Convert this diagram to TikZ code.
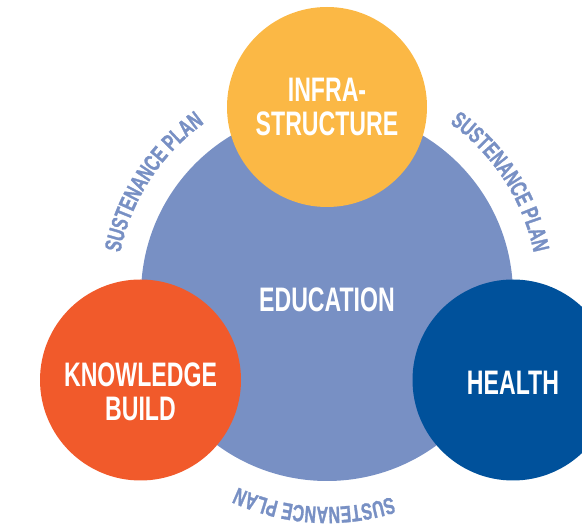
\documentclass[tikz,border=0pt]{standalone}
\usepackage{fontspec}
\setmainfont{Liberation Sans}
\newfontfamily\condfont[FakeStretch=0.68]{Liberation Sans}
\newfontfamily\arcfont[FakeStretch=0.68,FakeBold=1.2]{Liberation Sans}
\usetikzlibrary{positioning,decorations.text}
\definecolor{edublue}{HTML}{7890C4}
\definecolor{infraorange}{HTML}{FBB845}
\definecolor{knowred}{HTML}{F15A2B}
\definecolor{healthblue}{HTML}{00519B}
\tikzstyle{disc}=[circle, draw=none, inner sep=0pt]
\tikzstyle{edudisc}=[disc, fill=edublue, minimum size=372pt]
\tikzstyle{smalldisc}=[disc, minimum size=201pt]
\tikzstyle{lbl}=[text=white, align=center, inner sep=0pt,
                 font=\condfont\bfseries\fontsize{34}{34.5}\selectfont]
\tikzstyle{sustain}=[decorate, decoration={text along path, text align=center,
                 text color=edublue,
                 text={|\arcfont\bfseries\fontsize{23.5}{23.5}\selectfont|SUSTENANCE PLAN}}]

\begin{document}
\begin{tikzpicture}[x=1pt,y=-1pt]
\clip (0,0) rectangle (582,529);

\node (EDU) [edudisc] at (327,295) {};
\node (INFRA) [smalldisc, fill=infraorange, minimum size=200pt] at (327,107) {};
\node (KNOW) [smalldisc, fill=knowred] at (140.5,380) {};
\node (HEALTH) [smalldisc, fill=healthblue] at (513,380) {};

\node (EDUTXT) [lbl] at ([yshift=-4.5pt]EDU.center) {EDUCATION};
\node (INFRATXT) [lbl] at (INFRA.center) {INFRA-\\STRUCTURE};
\node (KNOWTXT) [lbl] at ([yshift=-12pt]KNOW.center) {KNOWLEDGE\\BUILD};
\node (HEALTHTXT) [lbl] at ([yshift=-2.5pt]HEALTH.center) {HEALTH};

% sustenance plan rings
\path[sustain] ([shift={(-177:211)}]EDU.center) arc[start angle=-177, end angle=-117, radius=211];
\path[sustain] ([shift={(-63:211)}]EDU.center) arc[start angle=-63, end angle=-3, radius=211];
\path[sustain] ([shift={(-296.5:212)}]EDU.center) arc[start angle=-296.5, end angle=-236.5, radius=212];

\end{tikzpicture}
\end{document}
